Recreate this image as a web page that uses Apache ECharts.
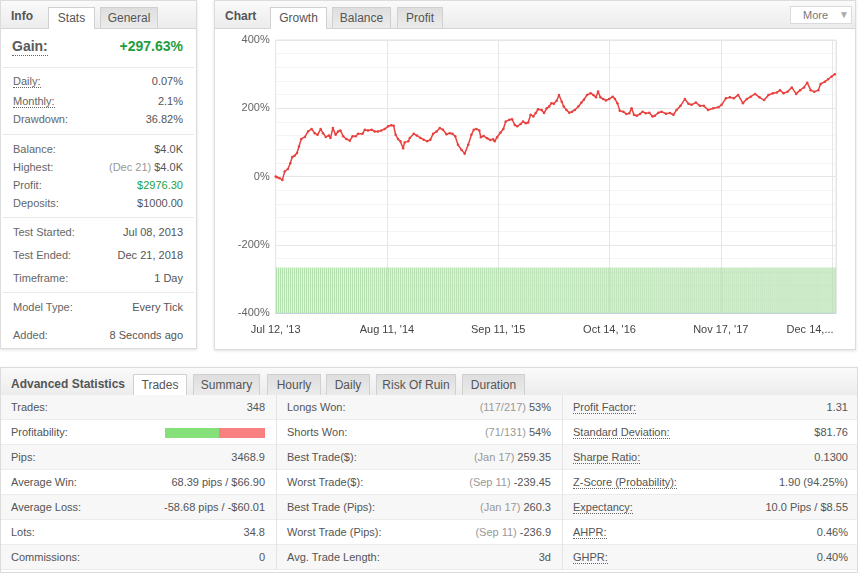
<!DOCTYPE html>
<html>
<head>
<meta charset="utf-8">
<script src="https://cdn.jsdelivr.net/npm/echarts/dist/echarts.min.js"></script>
<style>
html,body{margin:0;padding:0;background:#fff;}
body{width:858px;height:573px;position:relative;overflow:hidden;font-family:"Liberation Sans",Arial,sans-serif;font-size:11px;color:#555;}
.panel{position:absolute;background:#fff;border:1px solid #dcdcdc;box-shadow:0 1px 3px rgba(0,0,0,0.12);box-sizing:border-box;}
.hdr{position:absolute;left:0;top:0;right:0;background:linear-gradient(#fafafa,#ececec);border-bottom:1px solid #d4d4d4;box-sizing:border-box;}
.ttl{position:absolute;font-weight:bold;font-size:12px;color:#555;}
.tab{position:absolute;box-sizing:border-box;border:1px solid #d0d0d0;border-bottom:none;background:linear-gradient(#dedede,#ececec);text-align:center;font-size:12px;color:#555;}
.tab.act{background:#fff;height:22px !important;}
.abs{position:absolute;white-space:nowrap;}
.dot{border-bottom:1px dotted #666;}
.sep{position:absolute;height:1px;background:#e9e9e9;}
.lt{color:#999;}
</style>
</head>
<body>
<div class="panel" id="info" style="left:0;top:0;width:197px;height:349px;">
  <div class="hdr" style="height:28px;"></div>
  <div class="ttl" style="left:10px;top:8px;">Info</div>
  <div class="tab act" style="left:47px;top:6px;width:47px;height:21px;line-height:20px;">Stats</div>
  <div class="tab" style="left:99px;top:6px;width:58px;height:21px;line-height:20px;">General</div>
</div>
<div class="panel" id="chartPanel" style="left:214px;top:0;width:642px;height:350px;">
  <div class="hdr" style="height:28px;"></div>
  <div class="ttl" style="left:10px;top:8px;">Chart</div>
  <div class="tab act" style="left:55px;top:6px;width:57px;height:21px;line-height:20px;">Growth</div>
  <div class="tab" style="left:117px;top:6px;width:59px;height:21px;line-height:20px;">Balance</div>
  <div class="tab" style="left:182px;top:6px;width:46px;height:21px;line-height:20px;">Profit</div>
  <div class="abs" style="left:575px;top:5px;width:62px;height:18px;box-sizing:border-box;border:1px solid #dadada;background:#fff;">
    <span class="abs" style="left:12px;top:2px;color:#777;font-size:11px;">More</span>
    <span class="abs" style="left:48px;top:2px;color:#aaa;font-size:10px;">&#9660;</span>
  </div>
</div>
<div id="chart" style="position:absolute;left:215px;top:28px;width:640px;height:320px;"></div>
<div class="panel" id="adv" style="left:0;top:367px;width:858px;height:206px;">
  <div class="hdr" style="height:28px;"></div>
  <div class="ttl" style="left:10px;top:9px;">Advanced Statistics</div>
  <div class="tab act" style="left:132px;top:6px;width:54px;height:22px;line-height:21px;">Trades</div>
  <div class="tab" style="left:192px;top:6px;width:67px;height:22px;line-height:21px;">Summary</div>
  <div class="tab" style="left:266px;top:6px;width:54px;height:22px;line-height:21px;">Hourly</div>
  <div class="tab" style="left:325px;top:6px;width:44px;height:22px;line-height:21px;">Daily</div>
  <div class="tab" style="left:375px;top:6px;width:80px;height:22px;line-height:21px;">Risk Of Ruin</div>
  <div class="tab" style="left:461px;top:6px;width:63px;height:22px;line-height:21px;">Duration</div>
</div>
<script>
// ---- chart data ----
const tickLabels = ["Jul 12, '13", "Aug 11, '14", "Sep 11, '15", "Oct 14, '16", "Nov 17, '17", "Dec 14,..."];
const tickStep = 282;      // trading days between labelled ticks
const lastDay = 1420;      // trading days covered by the plot
const growthDay = [0,3,10,17,23,31,37,42,48,54,59,65,74,82,91,99,106,114,120,127,135,139,145,152,158,164,171,179,188,195,203,209,220,226,234,243,251,259,268,276,285,293,299,304,310,316,323,327,336,340,350,358,367,375,384,392,399,408,416,424,433,441,448,455,462,471,479,488,496,502,509,516,520,527,536,544,551,555,561,570,577,583,592,599,606,612,621,627,634,640,646,653,659,665,674,680,687,693,699,705,712,718,725,730,737,744,751,758,767,775,781,789,798,805,812,817,823,830,837,845,854,860,866,872,881,889,896,902,908,915,923,930,938,947,955,961,970,978,989,999,1008,1016,1026,1037,1046,1054,1065,1075,1085,1096,1109,1122,1130,1141,1151,1161,1172,1184,1194,1204,1215,1226,1238,1249,1260,1270,1278,1287,1297,1308,1319,1329,1339,1347,1356,1365,1375,1381,1392,1400,1409,1417];
const growthPct = [0,-2,-5,-10,15,22,39,57,61,69,88,110,116,132,139,127,122,139,127,116,120,113,142,122,132,135,118,110,105,118,118,125,125,137,135,137,132,132,135,139,147,150,149,122,110,103,83,100,103,113,125,120,113,108,103,108,125,132,142,137,124,127,125,118,93,78,67,93,122,137,139,135,115,119,112,107,109,103,115,129,139,161,166,168,151,147,154,161,156,158,181,176,186,197,195,186,200,205,215,213,222,239,219,205,195,187,190,195,205,217,225,239,244,239,232,249,232,227,223,227,234,227,215,193,190,183,185,200,181,178,183,190,185,187,176,178,187,190,184,186,181,195,207,227,213,210,217,207,207,195,200,203,210,229,232,229,239,215,227,234,242,232,224,239,244,246,253,244,248,261,242,253,261,275,253,248,253,271,278,285,293,300];
const tradeBars = [
1,1,1,1,1,1,1,1,1,1, 1,1,1,1,1,1,1,1,1,1, 1,1,1,1,1,1,1,1,1,1, 1,1,1,1,1,1,1,1,1,1,
1,1,1,1,1,1,1,1,1,1, 1,1,1,1,1,1,1,1,1,1, 1,1,1,1,1,1,1,1,1,1, 1,1,1,1,1,1,1,1,1,1,
1,1,1,1,1,1,1,1,1,1, 1,1,1,1,1,1,1,1,1,1, 1,1,1,1,1,1,1,1,1,1, 1,1,1,1,1,1,1,1,1,1,
1,1,1,1,1,1,1,1,1,1, 1,1,1,1,1,1,1,1,1,1, 1,1,1,1,1,1,1,1,1,1, 1,1,1,1,1,1,1,1,1,1,
1,1,1,1,1,1,1,1,1,1, 1,1,1,1,1,1,1,1,1,1, 1,1,1,1,1,1,1,1,1,1, 1,1,1,1,1,1,1,1,1,1,
1,1,1,1,1,1,1,1,1,1, 1,1,1,1,1,1,1,1,1,1, 1,1,1,1,1,1,1,1,1,1, 1,1,1,1,1,1,1,1,1,1,
1,1,1,1,1,1,1,1,1,1, 1,1,1,1,1,1,1,1,1,1, 1,1,1,1,1,1,1,1,1,1, 1,1,1,1,1,1,1,1,1,1
];

// ---- panel texts ----
const infoRows = [
  ["Daily:", "0.07%", 80, true],
  ["Monthly:", "2.1%", 100, true],
  ["Drawdown:", "36.82%", 118, false],
  ["Balance:", "$4.0K", 148, false],
  ["Highest:", "<span class='lt'>(Dec 21)</span> $4.0K", 166, false],
  ["Profit:", "<span style='color:#23a043'>$2976.30</span>", 184, false],
  ["Deposits:", "$1000.00", 202, false],
  ["Test Started:", "Jul 08, 2013", 231, false],
  ["Test Ended:", "Dec 21, 2018", 254, false],
  ["Timeframe:", "1 Day", 277, false],
  ["Model Type:", "Every Tick", 306, false],
  ["Added:", "8 Seconds ago", 334, false]
];
const infoSeps = [66, 133, 216, 291];
const col1 = [["Trades:","348"],["Profitability:","BAR"],["Pips:","3468.9"],["Average Win:","68.39 pips / $66.90"],["Average Loss:","-58.68 pips / -$60.01"],["Lots:","34.8"],["Commissions:","0"]];
const col2 = [["Longs Won:","<span class='lt'>(117/217)</span> 53%"],["Shorts Won:","<span class='lt'>(71/131)</span> 54%"],["Best Trade($):","<span class='lt'>(Jan 17)</span> 259.35"],["Worst Trade($):","<span class='lt'>(Sep 11)</span> -239.45"],["Best Trade (Pips):","<span class='lt'>(Jan 17)</span> 260.3"],["Worst Trade (Pips):","<span class='lt'>(Sep 11)</span> -236.9"],["Avg. Trade Length:","3d"]];
const col3 = [["Profit Factor:","1.31"],["Standard Deviation:","$81.76"],["Sharpe Ratio:","0.1300"],["Z-Score (Probability):","1.90 (94.25%)"],["Expectancy:","10.0 Pips / $8.55"],["AHPR:","0.46%"],["GHPR:","0.40%"]];
const winRatio = 0.54;

// build info panel
(function(){
  const p = document.getElementById('info');
  let h = '';
  h += "<div class='abs' style='left:11px;top:37px;font-size:14px;font-weight:bold;color:#5a5a5a;line-height:17px;'><span class='dot' style='padding-bottom:1px'>Gain:</span></div>";
  h += "<div class='abs' style='right:13px;top:37px;font-size:14px;font-weight:bold;color:#1e9e3e;line-height:17px;'>+297.63%</div>";
  infoSeps.forEach(y => { h += "<div class='sep' style='left:2px;width:191px;top:" + y + "px'></div>"; });
  infoRows.forEach(r => {
    const t = r[2] - 7;
    h += "<div class='abs' style='left:12px;top:" + t + "px;line-height:14px;color:#666'>" + (r[3] ? "<span class='dot'>" + r[0] + "</span>" : r[0]) + "</div>";
    h += "<div class='abs' style='right:13px;top:" + t + "px;line-height:14px;color:#555'>" + r[1] + "</div>";
  });
  p.insertAdjacentHTML('beforeend', h);
})();

// build advanced stats table
(function(){
  const p = document.getElementById('adv');
  let h = '';
  const top0 = 27;
  for (let i = 0; i < 7; i++) {
    const t = top0 + i * 25;
    h += "<div class='abs' style='left:0;width:856px;top:" + t + "px;height:25px;background:" + (i % 2 === 0 ? '#f7f7f7' : '#fff') + ";border-bottom:1px solid #ececec;box-sizing:border-box'></div>";
  }
  h += "<div class='abs' style='left:275px;top:" + top0 + "px;width:1px;height:175px;background:#e4e4e4'></div>";
  h += "<div class='abs' style='left:561px;top:" + top0 + "px;width:1px;height:175px;background:#e4e4e4'></div>";
  const cols = [[col1, 10, 856 - 264, false], [col2, 286, 856 - 550, false], [col3, 572, 856 - 847, true]];
  cols.forEach(c => {
    c[0].forEach((r, i) => {
      const t = top0 + i * 25 + 5;
      h += "<div class='abs' style='left:" + c[1] + "px;top:" + t + "px;line-height:15px;color:#555'>" + (c[3] ? "<span class='dot'>" + r[0] + "</span>" : r[0]) + "</div>";
      if (r[1] === 'BAR') {
        const w = 100, g = Math.round(w * winRatio);
        h += "<div class='abs' style='right:" + c[2] + "px;top:" + (top0 + i * 25 + 8) + "px;width:" + w + "px;height:10px;background:#f88080'><div style='width:" + g + "px;height:10px;background:#86e07a'></div></div>";
      } else {
        h += "<div class='abs' style='right:" + c[2] + "px;top:" + t + "px;line-height:15px;color:#555'>" + r[1] + "</div>";
      }
    });
  });
  p.insertAdjacentHTML('beforeend', h);
})();

// ---- chart ----
const chart = echarts.init(document.getElementById('chart'), null, {renderer: 'canvas', devicePixelRatio: 1});
const lineData = growthDay.map((d, i) => [d, growthPct[i]]);
chart.setOption({
  animation: false,
  grid: {left: 60.67, right: 19, top: 12, bottom: 35, show: true, borderColor: '#e3e3e3', borderWidth: 1, backgroundColor: 'transparent', outerBoundsMode: 'none'},
  xAxis: [{
    type: 'value', min: 0, max: lastDay, interval: tickStep,
    axisLine: {show: true, onZero: false, lineStyle: {color: '#c5d3e2', width: 1}},
    axisTick: {show: false},
    splitLine: {show: true, lineStyle: {color: '#e6e6e6', width: 1}},
    axisLabel: {
      show: true, showMaxLabel: false, showMinLabel: true, color: '#444', fontSize: 11,
      fontFamily: 'Liberation Sans, Arial, sans-serif', margin: 11, hideOverlap: false,
      formatter: function (v) {
        const k = Math.round(v / tickStep);
        if (k === tickLabels.length - 1) return '{e|' + tickLabels[k] + '}';
        return tickLabels[k] || '';
      },
      rich: {e: {padding: [0, 44, 0, 0], color: '#444', fontSize: 11, fontFamily: 'Liberation Sans, Arial, sans-serif'}}
    }
  }, {
    type: 'category', show: false, boundaryGap: true,
    data: tradeBars.map((_, i) => i)
  }],
  yAxis: [{
    type: 'value', min: -400, max: 400, interval: 200,
    axisLine: {show: false}, axisTick: {show: false},
    axisLabel: {formatter: '{value}%', color: '#666', fontSize: 11, margin: 6, fontFamily: 'Liberation Sans, Arial, sans-serif'},
    splitLine: {show: true, lineStyle: {color: '#e6e6e6', width: 1}},
    minorTick: {show: false, splitNumber: 5},
    minorSplitLine: {show: true, lineStyle: {color: '#f3f3f3', width: 1}}
  }, {
    type: 'value', min: 0, max: 6, show: false, splitLine: {show: false}
  }],
  series: [{
    type: 'bar', xAxisIndex: 1, yAxisIndex: 1, data: tradeBars,
    itemStyle: {color: '#b4dfae'}, barWidth: 1.34, silent: true, z: 1
  }, {
    type: 'line', data: lineData, xAxisIndex: 0, yAxisIndex: 0,
    lineStyle: {color: '#e8413e', width: 1.5},
    itemStyle: {color: '#e8413e'},
    symbol: 'circle', symbolSize: 2.5, showSymbol: true, z: 3
  }]
});
</script>
</body>
</html>
